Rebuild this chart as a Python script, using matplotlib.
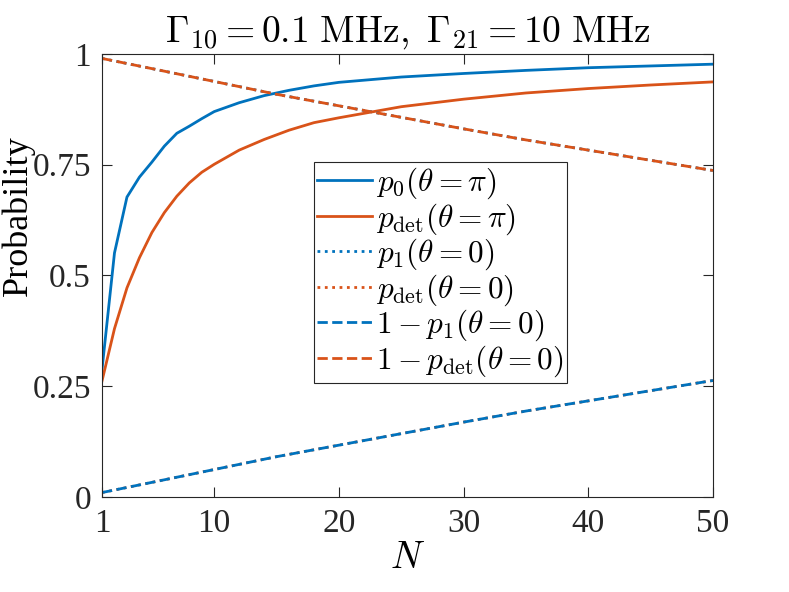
import matplotlib
matplotlib.use("Agg")
import matplotlib.pyplot as plt

plt.rcParams['font.family'] = 'Liberation Serif'
plt.rcParams['mathtext.fontset'] = 'cm'

# p0 and p_det for theta = pi
n_pi = [1, 2, 3, 4, 5, 6, 7, 8, 9, 10, 12, 14, 16, 18, 20, 25, 30, 35, 40, 45, 50]
p0_pi = [0.288, 0.551, 0.677, 0.722, 0.756, 0.792, 0.821, 0.837, 0.854, 0.870,
         0.890, 0.906, 0.918, 0.928, 0.936, 0.948, 0.956, 0.963, 0.969, 0.973, 0.977]
pdet_pi = [0.262, 0.380, 0.472, 0.540, 0.597, 0.642, 0.679, 0.709, 0.733, 0.751,
           0.783, 0.807, 0.828, 0.845, 0.856, 0.881, 0.898, 0.912, 0.922, 0.930, 0.937]

# theta = 0 curves
n_0 = [1, 5, 10, 15, 20, 25, 30, 35, 40, 45, 50]
p1_0 = [0.990, 0.967, 0.938, 0.909, 0.883, 0.857, 0.831, 0.806, 0.783, 0.760, 0.737]
pdet_0 = [0.010, 0.033, 0.062, 0.091, 0.117, 0.143, 0.169, 0.194, 0.217, 0.240, 0.263]
one_minus_p1 = [0.010, 0.033, 0.062, 0.091, 0.117, 0.143, 0.169, 0.194, 0.217, 0.240, 0.263]
one_minus_pdet = [0.990, 0.967, 0.938, 0.909, 0.883, 0.857, 0.831, 0.806, 0.783, 0.760, 0.737]

blue = '#0072BD'
orange = '#D95319'

fig = plt.figure(figsize=(7.89, 5.92), dpi=100)
ax = fig.add_axes([0.1293, 0.1605, 0.7744, 0.7483])

lw = 2
ax.plot(n_pi, p0_pi, '-', color=blue, lw=lw, label=r'$p_0(\theta=\pi)$')
ax.plot(n_pi, pdet_pi, '-', color=orange, lw=lw, label=r'$p_{\rm det}(\theta=\pi)$')
ax.plot(n_0, p1_0, ':', color=blue, lw=lw, label=r'$p_1(\theta=0)$')
ax.plot(n_0, pdet_0, ':', color=orange, lw=lw, label=r'$p_{\rm det}(\theta=0)$')
ax.plot(n_0, one_minus_p1, '--', color=blue, lw=lw, label=r'$1-p_1(\theta=0)$')
ax.plot(n_0, one_minus_pdet, '--', color=orange, lw=lw, label=r'$1-p_{\rm det}(\theta=0)$')

ax.set_xlim(1, 50)
ax.set_ylim(0, 1)
ax.set_xticks([1, 10, 20, 30, 40, 50])
ax.set_yticks([0, 0.25, 0.5, 0.75, 1])
ax.set_yticklabels(['0', '0.25', '0.5', '0.75', '1'])
ax.tick_params(direction='in', top=True, right=True, length=7, width=0.8,
               colors='#262626', labelsize=24, pad=8)
for s in ax.spines.values():
    s.set_color('#262626')
    s.set_linewidth(0.8)

ax.set_xlabel(r'$N$', fontsize=27, labelpad=2)
ax.set_ylabel('Probability', fontsize=26)
ax.yaxis.label.set_va('center')
ax.yaxis.set_label_coords(-0.137, 0.635)
ax.set_title(r'$\Gamma_{10}=0.1\ \mathrm{MHz},\ \Gamma_{21}=10\ \mathrm{MHz}$',
             fontsize=27, pad=9)

leg = ax.legend(loc='center', bbox_to_anchor=(0.554, 0.507), fontsize=22.5,
                handlelength=1.75, handletextpad=0.12, labelspacing=0.0,
                borderpad=0.12, borderaxespad=0, fancybox=False, framealpha=1)
leg.get_frame().set_edgecolor('#262626')
leg.get_frame().set_linewidth(0.8)

fig.savefig('out.png', dpi=100)
